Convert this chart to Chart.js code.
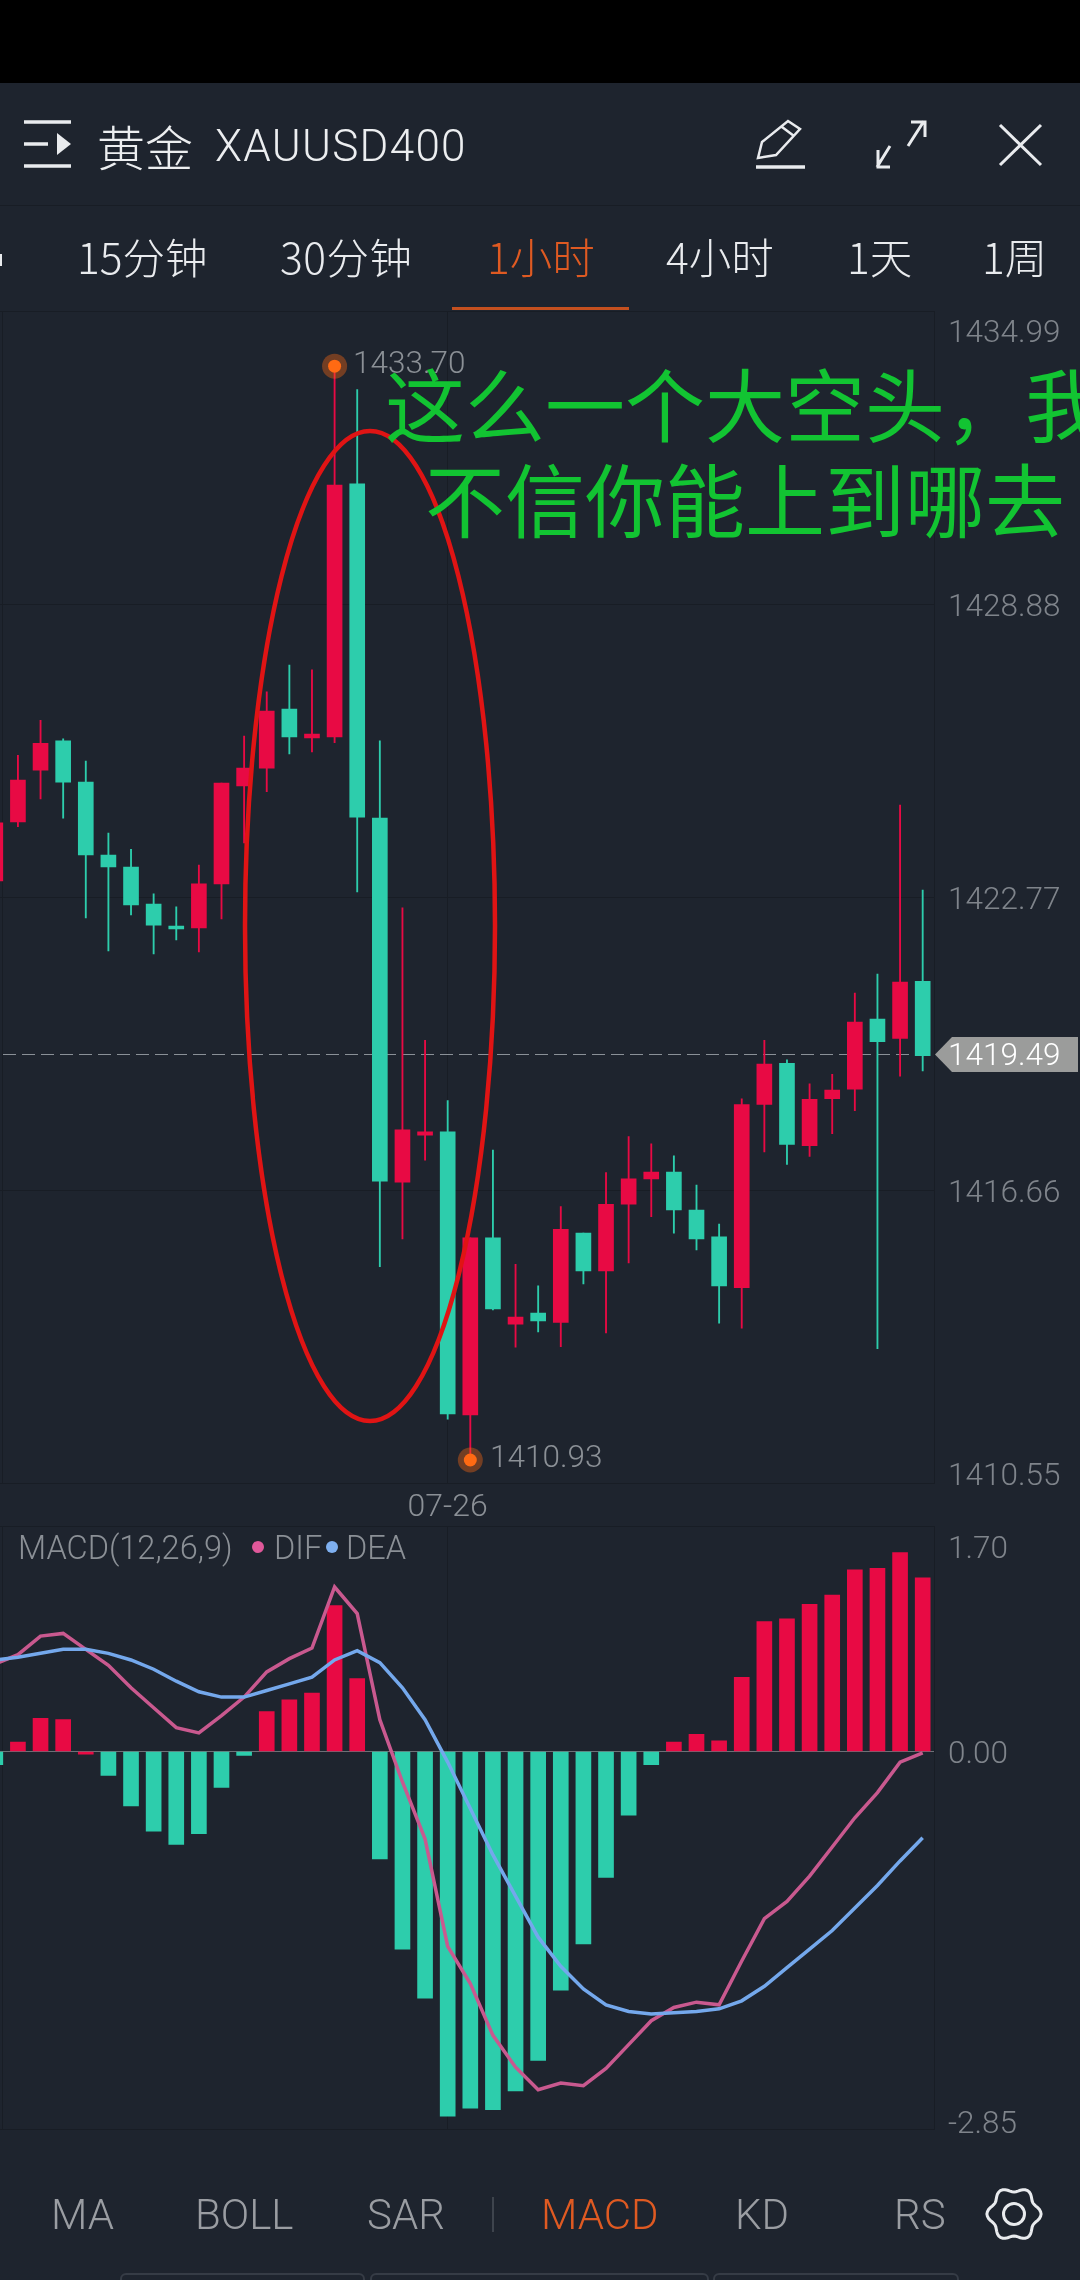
<!DOCTYPE html>
<html>
<head>
<meta charset="utf-8">
<title>XAUUSD400</title>
<script src="https://cdn.jsdelivr.net/npm/chart.js@4"></script>
<style>
    html, body { margin: 0; padding: 0; background: #1e242e; }
    #page { position: relative; width: 1080px; height: 2280px; overflow: hidden; background: #1e242e; font-family: Roboto, sans-serif; }
    #page > * { position: absolute; }
    .topbar { left: 0; top: 0; width: 1080px; height: 83px; background: #000; }
    .rule { background: #181d25; }
    .t { white-space: nowrap; line-height: 60px; height: 60px; }
    .cjk { font-family: "Noto Sans CJK SC", sans-serif; }
    .tab { color: #e9ebee; font-size: 42.5px; font-weight: 300; }
    .ind { color: #9a9da2; font-size: 42px; font-weight: 300; }
    .on { color: #df5a22; }
    .mark { color: #8b9096; font-size: 31.5px; font-weight: 300; }
    .legend { font-size: 32.5px; top: 1518px; }
    .note { color: #12c432; font-size: 80px; line-height: 100px; height: 100px; font-family: "Noto Sans CJK SC", sans-serif; }
    .box { top: 2273px; height: 20px; border: 2px solid #363c46; border-radius: 6px; }
    .dot { width: 12px; height: 12px; border-radius: 50%; }
    .tag { left: 935px; top: 1037px; width: 143px; height: 35px; background: #9b9c9b; clip-path: polygon(0 50%, 17px 0, 100% 0, 100% 100%, 17px 100%); }
</style>
</head>
<body>
<div id="page">
    <div class="topbar"></div>
    <div class="rule" style="left:0;top:205px;width:1080px;height:1px"></div>
    <div class="rule" style="left:2px;top:311px;width:1px;height:1172px"></div>
    <div class="rule" style="left:2px;top:1526px;width:1px;height:603px"></div>
    <div class="tag"></div>

    <canvas id="priceChart" width="1097" height="1215" style="left:-16px;top:311px"></canvas>
    <canvas id="macdChart" width="1097" height="640" style="left:-16px;top:1526px"></canvas>

    <svg width="1080" height="2280" style="left:0;top:0" fill="none" stroke="#e9ebee" stroke-width="3">
        <ellipse cx="370" cy="926" rx="125" ry="495" stroke="#e01414" stroke-width="4.5"></ellipse>
        <path d="M24 122H71M24 166H71M24 144H48" stroke-width="3.5"></path>
        <path d="M57 133L71 144L57 155Z" fill="#e9ebee" stroke="none"></path>
        <path d="M758 158L762 142L788 121L800 129L776 155ZM782 127L794 136" stroke-width="2.5"></path>
        <path d="M756 167H805" stroke-width="3.5"></path>
        <path d="M877 167L890 146M878 150V167H890M924 121L908 146M911 122H925V137" stroke-width="3"></path>
        <path d="M1000 125L1041 165M1041 125L1000 165" stroke-width="3"></path>
        <circle cx="1014" cy="2214" r="10.5"></circle>
        <path id="gear"></path>
        <path d="M493 2197V2232" stroke="#4a4f58" stroke-width="1.5"></path>
    </svg>

    <div class="t cjk" style="left:97px;top:115px;color:#eceef0;font-size:48px;font-weight:300">黄金</div>
    <div class="t" style="left:215px;top:116px;color:#eceef0;font-size:44px;font-weight:300;letter-spacing:1.3px">XAUUSD400</div>

    <div class="t tab cjk" style="left:77px;top:226px">15分钟</div>
    <div class="t tab cjk" style="left:280px;top:226px;letter-spacing:0.5px">30分钟</div>
    <div class="t tab cjk on" style="left:487px;top:226px">1小时</div>
    <div class="t tab cjk" style="left:666px;top:226px">4小时</div>
    <div class="t tab cjk" style="left:847px;top:226px">1天</div>
    <div class="t tab cjk" style="left:982px;top:226px">1周</div>
    <div style="left:452px;top:307px;width:177px;height:3px;background:#c4501f"></div>
    <div style="left:0;top:254px;width:2px;height:12px;background:#e9ebee"></div>

    <div class="t note" style="left:385px;top:351px;width:695px;overflow:hidden">这么一个大空头，我</div>
    <div class="t note" style="left:425px;top:446px">不信你能上到哪去</div>

    <div class="t mark" style="left:353px;top:333px">1433.70</div>
    <div class="t mark" style="left:490px;top:1427px">1410.93</div>

    <div class="t mark legend" style="left:18px">MACD(12,26,9)</div>
    <div class="dot" style="left:252px;top:1541px;background:#e0589a"></div>
    <div class="t mark legend" style="left:274px">DIF</div>
    <div class="dot" style="left:326px;top:1541px;background:#7fb0f0"></div>
    <div class="t mark legend" style="left:346px">DEA</div>

    <div class="t ind" style="left:51px;top:2185px">MA</div>
    <div class="t ind" style="left:195px;top:2185px">BOLL</div>
    <div class="t ind" style="left:367px;top:2185px">SAR</div>
    <div class="t ind on" style="left:541px;top:2185px">MACD</div>
    <div class="t ind" style="left:735px;top:2185px">KD</div>
    <div class="t ind" style="left:894px;top:2185px;width:54px;overflow:hidden">RSI</div>

    <div class="box" style="left:120px;width:241px"></div>
    <div class="box" style="left:370px;width:335px"></div>
    <div class="box" style="left:713px;width:242px"></div>
</div>

<script>
    const opens = [1423.11, 1424.34, 1425.42, 1426.03, 1425.17, 1423.65, 1423.40, 1422.63, 1422.17, 1422.13,
        1423.05, 1425.09, 1425.46, 1426.69, 1426.09, 1426.11, 1431.39, 1424.42, 1416.83, 1417.81,
        1417.88, 1411.98, 1415.67, 1413.87, 1414.10, 1413.91, 1415.77, 1414.98, 1416.37, 1416.90,
        1417.04, 1416.25, 1415.69, 1414.63, 1418.45, 1419.31, 1417.59, 1418.57, 1418.77, 1420.23,
        1419.83, 1421.02];
    const closes = [1424.32, 1425.21, 1425.98, 1425.17, 1423.65, 1423.40, 1422.61, 1422.19, 1422.11, 1423.05,
        1425.15, 1425.46, 1426.65, 1426.11, 1426.17, 1431.36, 1424.44, 1416.85, 1417.92, 1417.88,
        1412.00, 1415.67, 1414.19, 1414.02, 1413.94, 1415.85, 1414.98, 1416.37, 1416.90, 1417.04,
        1416.25, 1415.65, 1414.67, 1418.45, 1419.29, 1417.62, 1418.56, 1418.75, 1420.17, 1419.76,
        1421.00, 1419.47];
    const highs = [1424.32, 1425.73, 1426.46, 1426.07, 1425.61, 1424.11, 1423.77, 1422.84, 1422.57, 1423.44,
        1425.15, 1426.13, 1427.05, 1427.61, 1427.51, 1433.84, 1433.35, 1426.03, 1422.55, 1419.79,
        1418.53, 1415.67, 1417.50, 1415.12, 1414.67, 1416.32, 1415.77, 1417.03, 1417.78, 1417.63,
        1417.38, 1416.77, 1415.96, 1418.57, 1419.79, 1419.38, 1418.88, 1419.08, 1420.77, 1421.17,
        1424.69, 1422.92];
    const lows = [1423.11, 1424.24, 1424.82, 1424.42, 1422.34, 1421.65, 1422.40, 1421.59, 1421.88, 1421.63,
        1422.32, 1423.90, 1424.97, 1425.76, 1425.80, 1425.99, 1422.88, 1415.07, 1415.65, 1417.29,
        1411.89, 1411.04, 1414.17, 1413.39, 1413.71, 1413.40, 1414.71, 1413.69, 1415.15, 1416.11,
        1415.77, 1415.42, 1413.89, 1413.79, 1417.46, 1417.20, 1417.37, 1417.84, 1418.32, 1413.36,
        1419.04, 1419.15];

    const macdBars = [-0.10, 0.07, 0.25, 0.24, -0.02, -0.18, -0.41, -0.60, -0.70, -0.62,
        -0.27, -0.03, 0.30, 0.39, 0.44, 1.10, 0.55, -0.81, -1.49, -1.86,
        -2.75, -2.69, -2.70, -2.56, -2.33, -1.80, -1.45, -0.95, -0.48, -0.10,
        0.07, 0.13, 0.08, 0.56, 0.98, 1.00, 1.11, 1.18, 1.37, 1.38,
        1.50, 1.31];
    const dif = [0.66, 0.73, 0.87, 0.89, 0.77, 0.65, 0.48, 0.33, 0.18, 0.14,
        0.27, 0.41, 0.60, 0.70, 0.78, 1.24, 1.04, 0.24, -0.23, -0.66,
        -1.47, -1.75, -2.14, -2.38, -2.55, -2.50, -2.52, -2.39, -2.21, -2.03,
        -1.93, -1.89, -1.91, -1.58, -1.26, -1.13, -0.94, -0.72, -0.50, -0.31,
        -0.08, -0.01];
    const dea = [0.69, 0.71, 0.74, 0.77, 0.77, 0.74, 0.69, 0.62, 0.53, 0.45,
        0.41, 0.41, 0.46, 0.51, 0.56, 0.69, 0.76, 0.67, 0.48, 0.24,
        -0.08, -0.43, -0.78, -1.09, -1.40, -1.62, -1.79, -1.91, -1.96, -1.98,
        -1.97, -1.96, -1.94, -1.88, -1.77, -1.63, -1.49, -1.35, -1.18, -1.01,
        -0.825, -0.65];

    const priceTicks = [1434.99, 1428.88, 1422.77, 1419.49, 1416.66, 1410.55];
    const macdTicks = [1.70, 0, -2.85];
    const lastPrice = 1419.49;
    const dateIndex = 20;
    const dateLabel = '07-26';
    const highIndex = 15;
    const lowIndex = 21;

    const RED = '#e80a44';
    const GREEN = '#2dcdac';
    const GRID = '#181d25';
    const LABEL = '#7f848b';
    const FONT = 'Roboto';

    const candleIds = opens.map((_, i) => i);
    const isUp = i => closes[i] >= opens[i];

    // bars hanging only a hair below zero keep the up colour in the app
    const macdColor = v => v > -0.025 ? RED : GREEN;

    // pushes a label off its grid line by padding the label with an empty row
    function shiftedTick(text, shift) {
        return shift > 0 ? ['', text] : [text, ''];
    }

    function tickFont(shift) {
        return { family: FONT, size: 31.5, weight: 300, lineHeight: Math.abs(shift || 1) * 2 + 'px' };
    }

    function fixBox(size) {
        return scale => {
            if (size.width) scale.width = size.width;
            if (size.height) scale.height = size.height;
            scale.paddingTop = scale.paddingBottom = scale.paddingLeft = scale.paddingRight = 0;
        };
    }

    function xAxis(showLabel, height) {
        return {
            offset: true,
            border: { display: false },
            grid: {
                offset: false,
                drawTicks: false,
                color: ctx => ctx.index === dateIndex ? GRID : 'rgba(0,0,0,0)',
            },
            ticks: {
                display: showLabel,
                autoSkip: false,
                maxRotation: 0,
                padding: 5,
                color: '#8b9096',
                font: { family: FONT, size: 32, weight: 300 },
                callback: (value, index) => index === dateIndex ? dateLabel : '',
            },
            afterFit: fixBox({ height: height }),
        };
    }

    function yAxis(min, max, values, shiftOf, extra) {
        return Object.assign({
            position: 'right',
            min: min,
            max: max,
            border: { color: GRID },
            afterBuildTicks: scale => { scale.ticks = values.map(value => ({ value })); },
            afterFit: fixBox({ width: 147 }),
        }, extra(shiftOf));
    }

    const baseOptions = {
        responsive: false,
        animation: false,
        layout: { padding: 0, autoPadding: false },
        plugins: { legend: { display: false }, tooltip: { enabled: false } },
    };

    const priceShift = { 1434.99: 23.5, 1428.88: 3.5, 1422.77: 3.5, 1419.49: 2.5, 1416.66: 3.5, 1410.55: -6 };
    new Chart(document.getElementById('priceChart').getContext('2d'), {
        type: 'bar',
        data: {
            labels: candleIds,
            datasets: [
                {
                    type: 'line',
                    order: 0,
                    data: candleIds.map(i => i === highIndex ? highs[i] : i === lowIndex ? lows[i] : null),
                    showLine: false,
                    pointRadius: 6.5,
                    pointBorderWidth: 0,
                    pointBackgroundColor: '#ff6a13',
                },
                {
                    type: 'line',
                    order: 1,
                    data: candleIds.map(i => i === highIndex ? highs[i] : i === lowIndex ? lows[i] : null),
                    showLine: false,
                    pointRadius: 12.5,
                    pointBorderWidth: 0,
                    pointBackgroundColor: 'rgba(255,106,19,0.38)',
                },
                {
                    order: 2,
                    grouped: false,
                    data: candleIds.map(i => [opens[i], closes[i]]),
                    barThickness: 15,
                    borderSkipped: false,
                    backgroundColor: ctx => isUp(ctx.dataIndex) ? RED : GREEN,
                },
                {
                    order: 3,
                    grouped: false,
                    data: candleIds.map(i => [lows[i], highs[i]]),
                    barThickness: 1.2,
                    borderSkipped: false,
                    backgroundColor: ctx => isUp(ctx.dataIndex) ? RED : GREEN,
                },
            ],
        },
        options: Object.assign({}, baseOptions, {
            scales: {
                x: xAxis(true, 42.5),
                y: yAxis(1410.55, 1434.99, priceTicks, priceShift, shift => ({
                    grid: {
                        drawTicks: false,
                        color: ctx => ctx.tick && ctx.tick.value === lastPrice ? '#8a9097' : GRID,
                    },
                    border: {
                        color: GRID,
                        dash: ctx => ctx.tick && ctx.tick.value === lastPrice ? [13, 6] : [],
                    },
                    ticks: {
                        autoSkip: false,
                        padding: 14,
                        color: ctx => ctx.tick && ctx.tick.value === lastPrice ? '#ffffff' : LABEL,
                        font: ctx => tickFont(ctx.tick ? shift[ctx.tick.value] : 0),
                        callback: value => shiftedTick(value.toFixed(2), shift[value]),
                    },
                })),
            },
        }),
    });

    const macdShift = { 1.7: 24, 0: 3.5, '-2.85': -4.5 };
    new Chart(document.getElementById('macdChart').getContext('2d'), {
        type: 'bar',
        data: {
            labels: candleIds,
            datasets: [
                {
                    type: 'line',
                    order: 0,
                    data: dea,
                    borderColor: '#74a8ec',
                    borderWidth: 3.5,
                    pointRadius: 0,
                    tension: 0,
                },
                {
                    type: 'line',
                    order: 1,
                    data: dif,
                    borderColor: '#c9598f',
                    borderWidth: 3.5,
                    pointRadius: 0,
                    tension: 0,
                },
                {
                    order: 2,
                    data: macdBars,
                    barThickness: 15,
                    backgroundColor: ctx => macdColor(macdBars[ctx.dataIndex]),
                },
            ],
        },
        options: Object.assign({}, baseOptions, {
            scales: {
                x: xAxis(false, 36.5),
                y: yAxis(-2.85, 1.70, macdTicks, macdShift, shift => ({
                    grid: {
                        drawTicks: false,
                        color: ctx => ctx.tick && ctx.tick.value === 0 ? '#6d7177' : GRID,
                    },
                    ticks: {
                        autoSkip: false,
                        padding: 14,
                        color: LABEL,
                        font: ctx => tickFont(ctx.tick ? shift[ctx.tick.value] : 0),
                        callback: value => shiftedTick(value.toFixed(2), shift[value]),
                    },
                })),
            },
        }),
    });

    // settings gear outline
    let gearPath = '';
    for (let a = 0; a <= 360; a += 5) {
        const rad = a * Math.PI / 180;
        const r = 24.5 + 2.6 * Math.cos(6 * (rad - Math.PI / 6));
        gearPath += (a ? 'L' : 'M') + (1014 + r * Math.sin(rad)).toFixed(1) + ' ' + (2214 - r * Math.cos(rad)).toFixed(1);
    }
    document.getElementById('gear').setAttribute('d', gearPath + 'Z');
</script>
</body>
</html>
